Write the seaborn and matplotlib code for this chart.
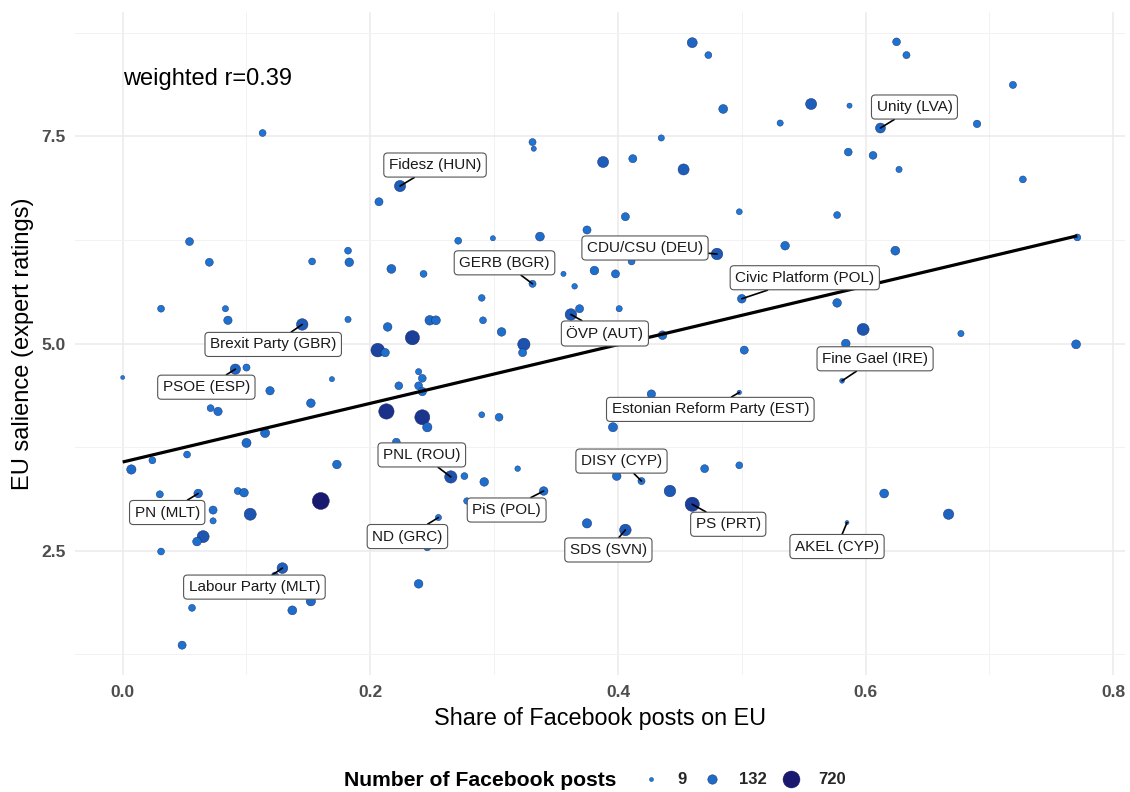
import numpy as np
import pandas as pd
import matplotlib
matplotlib.use("Agg")
import matplotlib.pyplot as plt
from matplotlib.colors import LinearSegmentedColormap, Normalize
from matplotlib.lines import Line2D
import seaborn as sns

# ---- labelled parties ----
party = ["Unity (LVA)", "Fidesz (HUN)", "GERB (BGR)", "CDU/CSU (DEU)",
         "Civic Platform (POL)", "Brexit Party (GBR)", "ÖVP (AUT)",
         "Fine Gael (IRE)", "PSOE (ESP)", "Estonian Reform Party (EST)",
         "PNL (ROU)", "DISY (CYP)", "PN (MLT)", "PiS (POL)", "PS (PRT)",
         "ND (GRC)", "SDS (SVN)", "AKEL (CYP)", "Labour Party (MLT)"]
party_share = [0.612, 0.224, 0.331, 0.480, 0.500, 0.145, 0.362, 0.581, 0.091,
               0.498, 0.265, 0.419, 0.061, 0.340, 0.460, 0.255, 0.406, 0.585,
               0.129]
party_salience = [7.60, 6.90, 5.72, 6.08, 5.54, 5.23, 5.35, 4.55, 4.69, 4.41,
                  3.39, 3.34, 3.19, 3.22, 3.06, 2.90, 2.75, 2.84, 2.29]
party_posts = [160, 230, 50, 250, 100, 250, 250, 12, 180, 10, 300, 50, 100,
               100, 450, 30, 250, 9, 200]

# ---- all other parties ----
share = [0.460, 0.473, 0.625, 0.633, 0.719, 0.485, 0.556, 0.587, 0.531, 0.690,
         0.113, 0.331, 0.332, 0.388, 0.412, 0.435, 0.453, 0.207, 0.498, 0.406,
         0.375, 0.337, 0.299, 0.271, 0.054, 0.182, 0.586, 0.606, 0.627, 0.727,
         0.577, 0.535, 0.624, 0.771, 0.070, 0.153, 0.183, 0.217, 0.243, 0.356,
         0.381, 0.398, 0.411, 0.290, 0.365, 0.031, 0.083, 0.085, 0.182, 0.214,
         0.248, 0.253, 0.291, 0.306, 0.234, 0.324, 0.323, 0.369, 0.401, 0.436,
         0.502, 0.206, 0.212, 0.100, 0.000, 0.169, 0.119, 0.071, 0.077, 0.152,
         0.239, 0.242, 0.239, 0.223, 0.242, 0.213, 0.242, 0.246, 0.290, 0.304,
         0.427, 0.396, 0.115, 0.100, 0.024, 0.052, 0.007, 0.173, 0.221, 0.276,
         0.292, 0.319, 0.399, 0.470, 0.498, 0.442, 0.030, 0.093, 0.098, 0.160,
         0.073, 0.073, 0.103, 0.065, 0.060, 0.031, 0.123, 0.152, 0.137, 0.056,
         0.048, 0.246, 0.239, 0.278, 0.375, 0.615, 0.667, 0.577, 0.598, 0.584,
         0.677, 0.770]
salience = [8.63, 8.48, 8.64, 8.48, 8.12, 7.83, 7.89, 7.87, 7.66, 7.65,
            7.54, 7.43, 7.35, 7.19, 7.23, 7.48, 7.10, 6.71, 6.59, 6.53,
            6.37, 6.29, 6.27, 6.24, 6.23, 6.12, 7.31, 7.27, 7.10, 6.98,
            6.55, 6.18, 6.12, 6.28, 5.98, 5.99, 5.98, 5.90, 5.84, 5.84,
            5.88, 5.84, 5.99, 5.55, 5.69, 5.42, 5.42, 5.28, 5.29, 5.20,
            5.28, 5.28, 5.28, 5.14, 5.07, 4.99, 4.89, 5.42, 5.42, 5.10,
            4.92, 4.92, 4.89, 4.71, 4.59, 4.57, 4.43, 4.22, 4.18, 4.28,
            4.66, 4.58, 4.49, 4.49, 4.42, 4.18, 4.11, 3.99, 4.14, 4.11,
            4.39, 3.99, 3.92, 3.80, 3.59, 3.66, 3.48, 3.54, 3.81, 3.40,
            3.33, 3.49, 3.40, 3.49, 3.53, 3.22, 3.18, 3.22, 3.20, 3.10,
            2.99, 2.86, 2.94, 2.67, 2.61, 2.49, 2.20, 1.89, 1.78, 1.81,
            1.36, 2.54, 2.10, 3.10, 2.83, 3.19, 2.94, 5.49, 5.17, 5.00,
            5.12, 4.99]
posts = [160, 45, 70, 50, 50, 110, 220, 15, 30, 60,
         45, 50, 15, 220, 80, 30, 220, 80, 25, 80,
         80, 110, 15, 45, 75, 45, 70, 70, 30, 45,
         45, 100, 110, 45, 75, 45, 100, 110, 45, 15,
         100, 80, 45, 40, 20, 45, 30, 90, 30, 100,
         140, 110, 45, 100, 450, 300, 80, 80, 30, 100,
         80, 400, 90, 50, 9, 15, 90, 45, 90, 100,
         30, 70, 70, 70, 90, 550, 520, 130, 25, 70,
         90, 120, 120, 120, 45, 45, 130, 100, 70, 45,
         100, 20, 100, 75, 45, 250, 50, 50, 100, 720,
         80, 30, 280, 280, 100, 45, 45, 130, 110, 45,
         80, 45, 100, 35, 130, 110, 180, 100, 280, 100,
         30, 110]

# weighted linear fit and correlation
fit_intercept = 3.57
fit_slope = 3.54
weighted_r = 0.39

legend_breaks = [9, 132, 720]
x_ticks = [0.0, 0.2, 0.4, 0.6, 0.8]
y_ticks = [2.5, 5.0, 7.5]

df = pd.DataFrame({
    "share": share + party_share,
    "salience": salience + party_salience,
    "posts": posts + party_posts,
})

# ---- styling ----
sns.set_theme(style="white")
plt.rcParams["font.family"] = ["Liberation Sans", "DejaVu Sans"]

DPI = 100
cmap = LinearSegmentedColormap.from_list("posts", ["#1e7bd9", "#191970"])
n_min, n_max = min(legend_breaks), max(legend_breaks)
norm = Normalize(vmin=n_min, vmax=n_max)


def diameter_pt(n):
    # diameter grows with the square root of the post count (4 px .. 17 px)
    d_px = 4.0 + 13.0 * np.sqrt((n - n_min) / (n_max - n_min))
    return d_px * 72.0 / DPI


size_map = {v: diameter_pt(v) ** 2 for v in sorted(df["posts"].unique())}

fig = plt.figure(figsize=(11.30, 7.92), dpi=DPI)
ax = fig.add_axes([75 / 1130, 1 - 675 / 792, 1050 / 1130, 663 / 792])

# grid
ax.set_xlim(-0.0385, 0.8095)
ax.set_ylim(1.0, 9.0)
ax.set_xticks(x_ticks)
ax.set_yticks(y_ticks)
ax.set_xticks([-0.1 + 0.2 * i for i in range(1, 5)], minor=True)
ax.set_yticks([1.25, 3.75, 6.25, 8.75], minor=True)
ax.grid(True, which="major", color="#ebebeb", linewidth=1.1)
ax.grid(True, which="minor", color="#f2f2f2", linewidth=0.7)
ax.set_axisbelow(True)
for s in ax.spines.values():
    s.set_visible(False)
ax.tick_params(which="both", length=0)
ax.tick_params(axis="both", labelsize=12.5, labelcolor="#4d4d4d", pad=7)
ax.set_xticklabels([f"{t:.1f}" for t in x_ticks], fontweight="bold")
ax.set_yticklabels([f"{t:.1f}" for t in y_ticks], fontweight="bold")

sns.scatterplot(data=df, x="share", y="salience", hue="posts", size="posts",
                palette=cmap, hue_norm=norm, sizes=size_map,
                edgecolor="#1a2466", linewidth=0.3, legend=False, ax=ax,
                zorder=3)

# regression line across the observed range
xs = np.array([min(df["share"]), max(df["share"])])
ax.plot(xs, fit_intercept + fit_slope * xs, color="black", linewidth=2.3,
        solid_capstyle="butt", zorder=4)

ax.text(0.0, 8.19, f"weighted r={weighted_r:.2f}", ha="left", va="center",
        fontsize=17, color="black", zorder=6)

# repelled-style labels (offsets in pixels from the point)
label_offsets = {
    "Unity (LVA)": (34, 21), "Fidesz (HUN)": (35, 21), "GERB (BGR)": (-28, 21),
    "CDU/CSU (DEU)": (-72, 6), "Civic Platform (POL)": (63, 21),
    "Brexit Party (GBR)": (-29, -20), "ÖVP (AUT)": (34, -19),
    "Fine Gael (IRE)": (33, 22), "PSOE (ESP)": (-29, -18),
    "Estonian Reform Party (EST)": (-29, -17), "PNL (ROU)": (-29, 22),
    "DISY (CYP)": (-20, 20), "PN (MLT)": (-31, -19), "PiS (POL)": (-37, -19),
    "PS (PRT)": (36, -20), "ND (GRC)": (-31, -19), "SDS (SVN)": (-17, -20),
    "AKEL (CYP)": (-10, -24), "Labour Party (MLT)": (-28, -19),
}
for name, px, py in zip(party, party_share, party_salience):
    dx, dy = label_offsets[name]
    ax.annotate(name, xy=(px, py), xytext=(dx, dy), textcoords="offset pixels",
                ha="center", va="center", fontsize=11, color="#1a1a1a",
                bbox=dict(boxstyle="round,pad=0.33,rounding_size=0.25",
                          fc="white", ec="#555555", lw=0.8),
                arrowprops=dict(arrowstyle="-", color="black", lw=1.2,
                                shrinkA=0, shrinkB=0),
                zorder=7)

ax.set_xlabel("Share of Facebook posts on EU", fontsize=16.8, color="black",
              labelpad=5)
ax.set_ylabel("EU salience (expert ratings)", fontsize=17, color="black",
              labelpad=5)

# legend for the number of posts
fig.text(344 / 1130, 1 - 780 / 792, "Number of Facebook posts", ha="left",
         va="center", fontsize=15.2, fontweight="bold", color="black")
handles = [Line2D([], [], marker="o", linestyle="", markersize=diameter_pt(v),
                  markerfacecolor=cmap(norm(v)), markeredgecolor="#1a2466",
                  markeredgewidth=0.3) for v in legend_breaks]
fig.legend(handles, [str(v) for v in legend_breaks], ncol=3, frameon=False,
           loc="center left", bbox_to_anchor=(636 / 1130, 1 - 780 / 792),
           prop={"size": 12, "weight": "bold"}, handlelength=1.0,
           handletextpad=1.1, columnspacing=1.0, borderaxespad=0)

fig.savefig("out.png", dpi=DPI)
